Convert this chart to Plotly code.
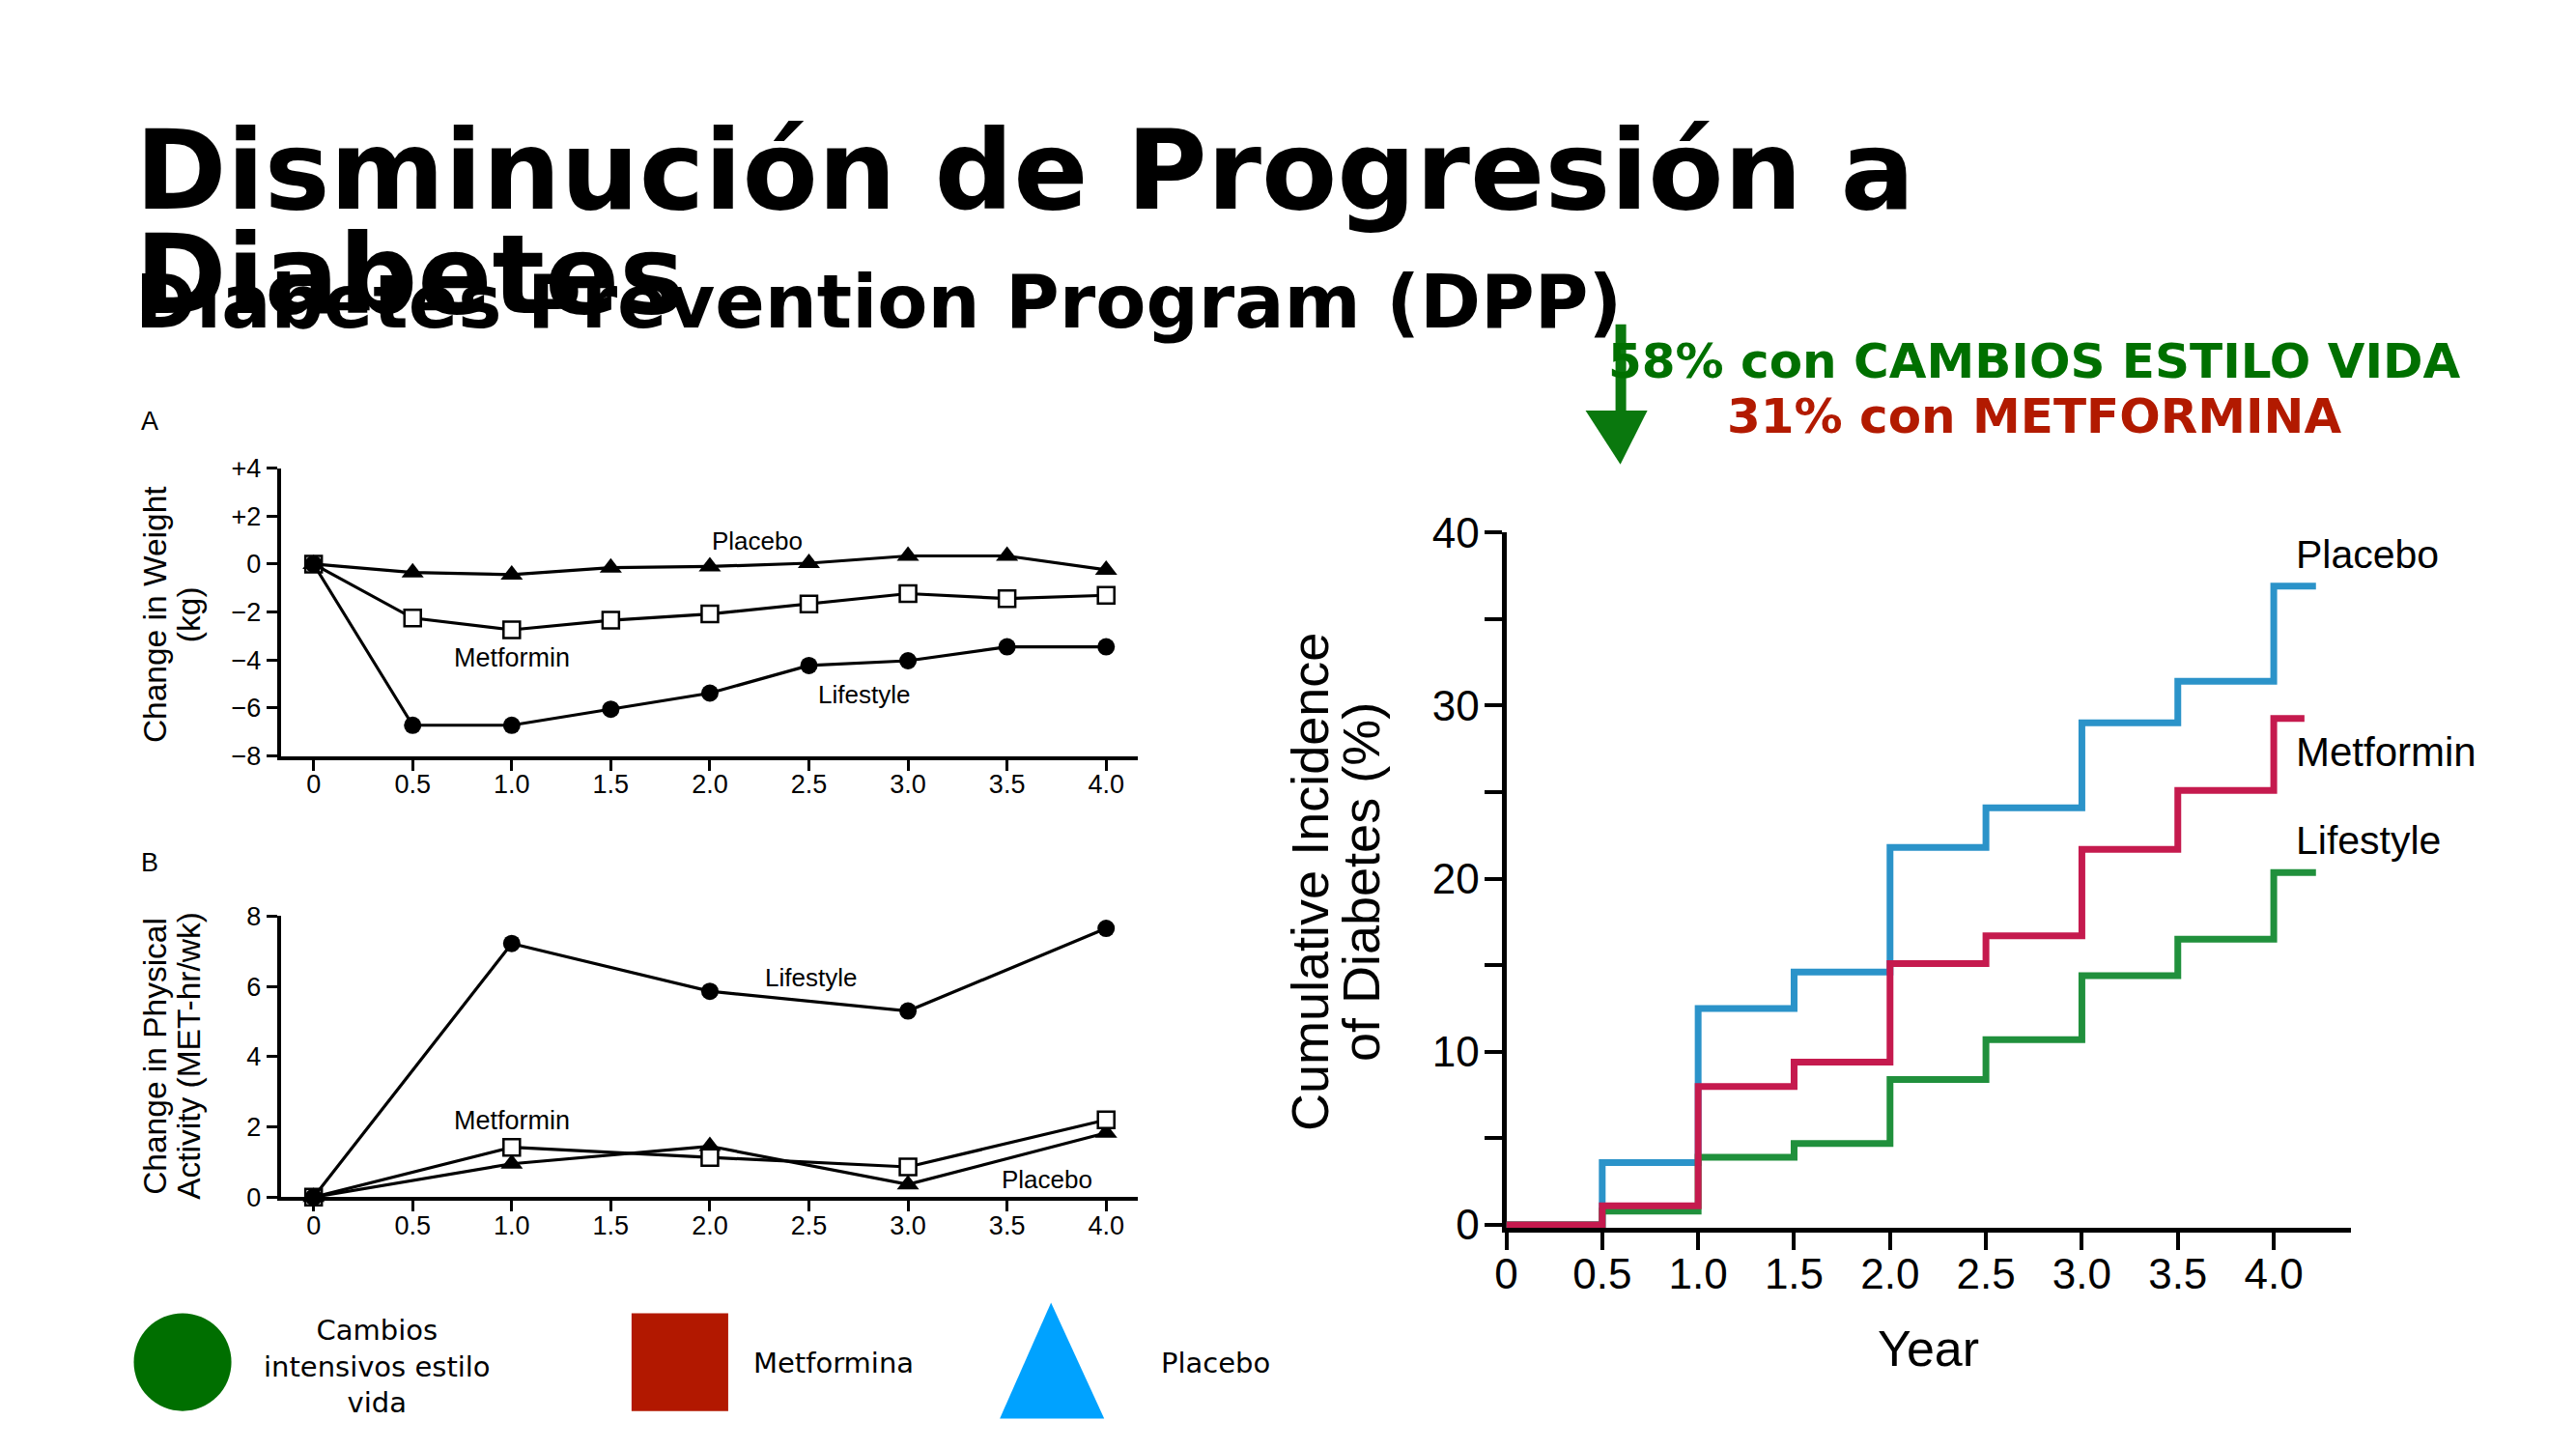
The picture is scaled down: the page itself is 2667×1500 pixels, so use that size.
import plotly.graph_objects as go

W, H = 2667, 1500

# ---------------- data ----------------
years_a = [0, 0.5, 1.0, 1.5, 2.0, 2.5, 3.0, 3.5, 4.0]
weight_placebo = [0, -0.35, -0.44, -0.15, -0.10, 0.04, 0.34, 0.34, -0.24]
weight_metformin = [0, -2.25, -2.74, -2.34, -2.08, -1.66, -1.23, -1.44, -1.30]
weight_lifestyle = [0, -6.72, -6.72, -6.05, -5.38, -4.23, -4.03, -3.45, -3.45]

years_b = [0, 1.0, 2.0, 3.0, 4.0]
activity_lifestyle = [0, 7.22, 5.86, 5.30, 7.65]
activity_metformin = [0, 1.42, 1.13, 0.86, 2.20]
activity_placebo = [0, 0.95, 1.45, 0.36, 1.83]

years_c = [0, 0.5, 1.0, 1.5, 2.0, 2.5, 3.0, 3.5, 4.0]
incidence_placebo = [0, 3.6, 12.5, 14.6, 21.8, 24.1, 29.0, 31.4, 36.9]
incidence_metformin = [0, 1.1, 8.0, 9.4, 15.1, 16.7, 21.7, 25.1, 29.25]
incidence_lifestyle = [0, 0.8, 3.9, 4.7, 8.4, 10.7, 14.4, 16.5, 20.35]
end_placebo = 4.22
end_metformin = 4.16
end_lifestyle = 4.22

year_tick_vals = [0, 0.5, 1.0, 1.5, 2.0, 2.5, 3.0, 3.5, 4.0]
year_tick_text = ["0", "0.5", "1.0", "1.5", "2.0", "2.5", "3.0", "3.5", "4.0"]
weight_tick_vals = [4, 2, 0, -2, -4, -6, -8]
weight_tick_text = ["+4", "+2", "0", "\u22122", "\u22124", "\u22126", "\u22128"]
activity_tick_vals = [0, 2, 4, 6, 8]
activity_tick_text = ["0", "2", "4", "6", "8"]
incidence_tick_vals = [0, 5, 10, 15, 20, 25, 30, 35, 40]
incidence_tick_text = ["0", "", "10", "", "20", "", "30", "", "40"]

# ---------------- helpers ----------------
def px(x):
    x = 1.00523 * x - 22.7
    return x / W

def py(y):
    y = 1.0243 * y - 25.7
    return 1 - y / H

SANS = "Liberation Sans, Arial, sans-serif"
DJ = "DejaVu Sans, sans-serif"
GREEN_TXT = "#007000"
RED_TXT = "#b21a00"

fig = go.Figure()

sq = dict(symbol="square", size=17, color="white", line=dict(color="black", width=2.5))
ci = dict(symbol="circle", size=18, color="black")
tr = dict(symbol="triangle-up", size=20, color="black")
blk = dict(color="black", width=3.2)

# ---------------- Panel A (weight) ----------------
fig.add_trace(go.Scatter(x=years_a, y=weight_metformin, mode="lines+markers", line=blk,
                         marker=sq, xaxis="x", yaxis="y", cliponaxis=False))
fig.add_trace(go.Scatter(x=years_a, y=weight_lifestyle, mode="lines+markers", line=blk,
                         marker=ci, xaxis="x", yaxis="y", cliponaxis=False))
fig.add_trace(go.Scatter(x=years_a, y=weight_placebo, mode="lines+markers", line=blk,
                         marker=tr, xaxis="x", yaxis="y", cliponaxis=False))

# ---------------- Panel B (activity) ----------------
fig.add_trace(go.Scatter(x=years_b, y=activity_placebo, mode="lines+markers", line=blk,
                         marker=tr, xaxis="x2", yaxis="y2", cliponaxis=False))
fig.add_trace(go.Scatter(x=years_b, y=activity_metformin, mode="lines+markers", line=blk,
                         marker=sq, xaxis="x2", yaxis="y2", cliponaxis=False))
fig.add_trace(go.Scatter(x=years_b, y=activity_lifestyle, mode="lines+markers", line=blk,
                         marker=ci, xaxis="x2", yaxis="y2", cliponaxis=False))

# ---------------- Right panel (cumulative incidence) ----------------
fig.add_trace(go.Scatter(x=years_c + [end_placebo], y=incidence_placebo + [incidence_placebo[-1]],
                         mode="lines", line=dict(color="#2b93c9", width=7, shape="hv"),
                         xaxis="x3", yaxis="y3"))
fig.add_trace(go.Scatter(x=years_c + [end_lifestyle], y=incidence_lifestyle + [incidence_lifestyle[-1]],
                         mode="lines", line=dict(color="#20903c", width=7, shape="hv"),
                         xaxis="x3", yaxis="y3"))
fig.add_trace(go.Scatter(x=years_c + [end_metformin], y=incidence_metformin + [incidence_metformin[-1]],
                         mode="lines", line=dict(color="#c51a4e", width=7, shape="hv"),
                         xaxis="x3", yaxis="y3"))

left_axis_common = dict(showline=True, linecolor="black", linewidth=4,
                        ticks="outside", ticklen=11, tickwidth=3, tickcolor="black",
                        showgrid=False, zeroline=False,
                        tickfont=dict(family=SANS, size=27, color="black"))
right_axis_common = dict(showline=True, linecolor="black", linewidth=5, layer="below traces",
                         ticks="outside", ticklen=18, tickwidth=4, tickcolor="black",
                         showgrid=False, zeroline=False,
                         tickfont=dict(family=SANS, size=44, color="black"))

fig.update_layout(
    width=W, height=H,
    margin=dict(l=0, r=0, t=0, b=0),
    paper_bgcolor="white", plot_bgcolor="white",
    showlegend=False,
    xaxis=dict(domain=[px(293), px(1180)], range=[-0.166, 4.161], anchor="y",
               tickmode="array", tickvals=year_tick_vals, ticktext=year_tick_text,
               ticklabelstandoff=-9, **left_axis_common),
    yaxis=dict(domain=[py(780), py(480)], range=[-8, 4], anchor="x",
               tickmode="array", tickvals=weight_tick_vals, ticktext=weight_tick_text,
               **left_axis_common),
    xaxis2=dict(domain=[px(293), px(1180)], range=[-0.166, 4.161], anchor="y2",
                tickmode="array", tickvals=year_tick_vals, ticktext=year_tick_text,
                ticklabelstandoff=-9, **left_axis_common),
    yaxis2=dict(domain=[py(1240), py(947)], range=[0, 8], anchor="x2",
                tickmode="array", tickvals=activity_tick_vals, ticktext=activity_tick_text,
                **left_axis_common),
    xaxis3=dict(domain=[px(1561), px(2435)], range=[0, 4.403], anchor="y3",
                tickmode="array", tickvals=year_tick_vals, ticktext=year_tick_text,
                ticklabelstandoff=-13, **right_axis_common),
    yaxis3=dict(domain=[py(1272), py(547)], range=[-0.17, 40], anchor="x3",
                tickmode="array", tickvals=incidence_tick_vals, ticktext=incidence_tick_text,
                ticklabelstandoff=-4, **right_axis_common),
)

ann = []

def paper_text(text, x, y, size, family=SANS, color="black", xanchor="center",
               yanchor="middle", angle=0):
    ann.append(dict(text=text, x=px(x), y=py(y), xref="paper", yref="paper",
                    xanchor=xanchor, yanchor=yanchor, showarrow=False, textangle=angle,
                    font=dict(family=family, size=size, color=color)))

def data_text(text, x, y, xr, yr, size, xanchor="center"):
    ann.append(dict(text=text, x=x, y=y, xref=xr, yref=yr, xanchor=xanchor,
                    yanchor="middle", showarrow=False,
                    font=dict(family=SANS, size=size, color="black")))

# titles
paper_text("<b>Disminución de Progresión a</b>", 140, 170, 114, family=DJ, xanchor="left")
paper_text("<b>Diabetes</b>", 140, 278, 114, family=DJ, xanchor="left")
paper_text("<b>Diabetes Prevention Program (DPP)</b>", 140, 307, 76, family=DJ, xanchor="left")
paper_text("<b>58% con CAMBIOS ESTILO VIDA</b>", 2108, 369, 50, family=DJ, color=GREEN_TXT)
paper_text("<b>31% con METFORMINA</b>", 2107, 426, 50, family=DJ, color=RED_TXT)

# panel letters
paper_text("A", 157, 431, 27)
paper_text("B", 157, 891, 27)

# left y titles
paper_text("Change in Weight", 163, 633, 33.5, angle=-90)
paper_text("(kg)", 198, 633, 33.5, angle=-90)
paper_text("Change in Physical", 163, 1093, 33.5, angle=-90)
paper_text("Activity (MET-hr/wk)", 198, 1093, 33.5, angle=-90)

# right titles
paper_text("Cumulative Incidence", 1357, 911, 54, angle=-90)
paper_text("of Diabetes (%)", 1410, 911, 54, angle=-90)
paper_text("Year", 1998, 1398, 52)

# in-plot series labels
data_text("Placebo", 2.24, 0.95, "x", "y", 26)
data_text("Metformin", 1.0, -3.9, "x", "y", 27)
data_text("Lifestyle", 2.78, -5.42, "x", "y", 26)
data_text("Lifestyle", 2.51, 6.25, "x2", "y2", 26)
data_text("Metformin", 1.0, 2.18, "x2", "y2", 27)
data_text("Placebo", 3.70, 0.50, "x2", "y2", 26)
data_text("Placebo", 4.105, 38.7, "x3", "y3", 41, xanchor="left")
data_text("Metformin", 4.105, 27.3, "x3", "y3", 42, xanchor="left")
data_text("Lifestyle", 4.105, 22.2, "x3", "y3", 41, xanchor="left")

# bottom legend texts
paper_text("Cambios<br>intensivos estilo<br>vida", 393, 1416, 29, family=DJ)
paper_text("Metformina", 780, 1413, 29, family=DJ, xanchor="left")
paper_text("Placebo", 1202, 1413, 29, family=DJ, xanchor="left")

fig.update_layout(annotations=ann)

# shapes: arrow and legend glyphs
def path(points):
    return "M " + " L ".join(f"{px(a):.5f},{py(b):.5f}" for a, b in points) + " Z"

shapes = [
    dict(type="rect", xref="paper", yref="paper", x0=px(1674), x1=px(1685),
         y0=py(330), y1=py(424), fillcolor="#0a780e", line=dict(width=0)),
    dict(type="path", xref="paper", yref="paper",
         path=path([(1643, 420), (1707, 420), (1679, 476)]),
         fillcolor="#0a780e", line=dict(width=0)),
    dict(type="circle", xref="paper", yref="paper", x0=px(141), x1=px(242),
         y0=py(1463), y1=py(1361), fillcolor="#006f00", line=dict(width=0)),
    dict(type="rect", xref="paper", yref="paper", x0=px(656), x1=px(756),
         y0=py(1463), y1=py(1361), fillcolor="#b21800", line=dict(width=0)),
    dict(type="path", xref="paper", yref="paper",
         path=path([(1090, 1350), (1145, 1471), (1037, 1471)]),
         fillcolor="#00a2ff", line=dict(width=0)),
]
fig.update_layout(shapes=shapes)

fig.write_html("out.html")
